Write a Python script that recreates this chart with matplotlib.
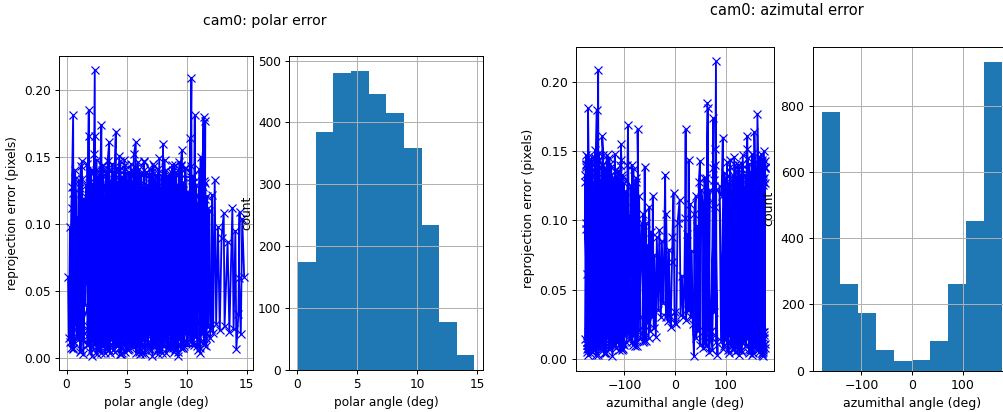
import numpy as np
import matplotlib.pyplot as plt

# per-corner values: polar angle, azimuthal angle, reprojection error (same points in both figures)
polar_deg = [
    14.78, 14.62, 14.50, 14.35, 14.40, 14.30, 14.13, 14.05, 13.90, 13.80, 13.55, 13.40, 13.15, 13.08, 12.90, 12.75, 12.60, 12.45, 12.33, 12.20, 12.10, 12.05,
    0.13, 0.20, 0.28, 0.35, 0.42, 0.55, 0.60, 0.50, 0.66, 0.75, 0.82, 0.90,
    1.00, 1.10, 1.25, 1.18, 1.32, 1.40, 1.48, 1.55, 1.62,
    6.05, 6.15, 6.25, 6.35, 6.45, 6.55, 6.65, 6.75, 6.85, 6.95,
    3.30, 3.42, 3.55, 3.60, 3.70, 3.78, 3.85,
    10.22, 10.32, 10.39, 10.42, 10.50, 10.58,
    11.30, 11.40, 11.45, 11.52, 11.58,
    11.05, 11.12, 11.20, 11.28, 11.36, 11.62, 11.70, 11.78, 11.88, 11.96,
    1.70, 1.82, 1.95, 2.08, 2.22, 2.36, 2.50, 2.64, 2.78, 2.92, 3.06, 3.18,
    4.02, 4.15, 4.28, 4.40, 4.52, 4.65, 4.78, 4.90, 5.02, 5.15, 5.28, 5.42,
    4.55, 4.68, 4.80, 4.94, 5.08, 5.22, 5.36, 5.50, 5.64, 5.78, 5.90, 6.00,
    6.08, 6.20, 6.32, 6.44, 6.56, 6.68, 6.80, 6.92, 7.04, 7.16, 7.30, 7.44,
    7.02, 7.16, 7.30, 7.44, 7.58, 7.72, 7.86, 8.00, 8.14, 8.28, 8.42, 8.56,
    9.02, 9.14, 9.26, 9.38, 9.50, 9.62, 9.74, 9.86, 9.98, 10.10, 10.24, 10.38,
    2.02, 2.26, 2.50, 2.74, 2.98, 3.22, 3.46, 3.70, 3.94, 4.18, 4.42, 4.66,
    8.60, 8.75, 8.90, 9.05, 9.20, 9.35, 9.50, 9.60, 9.68,
    3.92, 4.00, 4.10, 4.15, 4.22, 4.30, 4.38,
    3.90, 3.96, 4.02, 4.08, 4.14, 4.20, 4.26, 4.32, 4.38, 4.44,
    2.60, 2.68, 2.76, 2.84, 2.92,
    1.82, 1.85, 1.95, 2.00, 2.10, 2.18,
    5.10, 5.13, 5.17, 5.21, 5.25, 5.29, 5.33, 5.37, 5.41, 5.45, 5.49, 5.53, 5.57, 5.61, 5.65, 5.69, 5.73, 5.77, 5.81, 5.85,
    7.10, 7.14, 7.18, 7.22, 7.26, 7.30, 7.34, 7.38, 7.42, 7.46, 7.50, 7.54, 7.58, 7.62, 7.66, 7.70, 7.74, 7.78, 7.82, 7.86,
    2.22, 2.26, 2.30, 2.33, 2.35, 2.40, 2.44, 2.48,
    9.00, 9.04, 9.08, 9.12, 9.16, 9.20, 9.24, 9.28, 9.32, 9.36, 9.40, 9.44, 9.48, 9.52, 9.56, 9.60, 9.64, 9.68, 9.72, 9.76,
    10.62, 10.67, 10.72, 10.80, 10.88,
    1.72, 1.85, 1.80, 1.90, 1.98, 2.05, 2.12,
    2.70, 2.80, 2.90, 2.95, 3.05, 3.12, 3.20,
    2.20, 2.30, 2.35, 2.38, 2.45, 2.52, 2.58,
    8.00, 8.03, 8.10, 8.20, 8.30, 8.40, 8.50,
    5.05, 5.40, 5.75, 6.10, 6.45, 6.80, 7.15, 7.50, 7.85, 8.20, 8.55, 8.90,
    2.62, 2.75, 2.88, 3.00, 3.14, 3.28, 3.40, 3.52, 3.64, 3.76, 3.88, 3.98,
    0.30, 0.45, 0.58, 0.72, 0.86, 1.00, 1.14, 1.28, 1.42, 1.58,
    5.82, 5.94, 6.06, 6.18, 6.30, 6.42, 6.54, 6.66, 6.78, 6.90, 7.02, 7.14,
    10.44, 10.56, 10.68, 10.80, 10.92, 11.04, 11.16, 11.28, 11.40, 11.52, 11.64, 11.76,
    5.22, 5.35, 5.48, 5.60, 5.76, 5.80, 5.90, 5.98,
    10.25, 10.30, 10.36, 10.45,
    7.52, 7.65, 7.78, 7.91, 8.04, 8.17, 8.30, 8.43, 8.56, 8.69, 8.82, 8.95,
    4.42, 4.50, 4.58, 4.66, 4.74, 4.82, 4.90, 4.98, 5.06, 5.14,
    3.02, 3.28, 3.54, 3.80, 4.06, 4.32, 4.58, 4.84, 5.10, 5.36, 5.62, 5.88,
    0.52, 0.74, 0.96, 1.18, 1.40, 1.62, 1.84, 2.06, 2.28, 2.50, 2.72, 2.94,
    7.05, 7.15, 7.25, 7.35, 7.45, 7.55, 7.65, 7.75, 7.85, 7.95,
    8.52, 8.66, 8.80, 8.94, 9.08, 9.22, 9.36, 9.50, 9.64, 9.78, 9.92, 10.06,
    11.55, 11.48, 11.40, 11.25, 11.16, 11.10,
]

azimuth_deg = [
    -90, -92, -94, -96, -98, -100, -102, -104, -106, -108, -110, -112, -114, -116, -118, -120, -122, -124, -126, -128, -130, -132,
    -175, -173, -176, -172, -170, -172, -171, -168, -174, -177, -169, -166,
    -162, -158, -156, -160, -154, -150, -157, -152, -148,
    -176, -172, -178, -169, -165, -161, -167, -174, -170, -163,
    -146, -142, -144, -140, -138, -147, -150,
    -150, -153, -152, -151, -155, -149,
    -158, -155, -153, -160, -156,
    -140, -138, -136, -134, -132, -130, -128, -127, -125, -126,
    -130, -128, -126, -124, -122, -120, -119, -117, -116, -115, -118, -121,
    -165, -163, -160, -158, -156, -154, -152, -150, -148, -147, -146, -145,
    -120, -118, -115, -113, -110, -108, -106, -104, -102, -101, -100, -103,
    -140, -139, -137, -135, -134, -132, -131, -129, -128, -127, -126, -125,
    -160, -158, -156, -154, -152, -150, -148, -146, -145, -143, -142, -140,
    -178, -176, -175, -173, -172, -170, -169, -168, -167, -166, -165, -166,
    -177, -175, -178, -174, -171, -169, -167, -165, -168, -172, -176, -173,
    -112, -110, -108, -105, -113, -109, -106, -107, -104,
    -96, -94, -93, -90, -98, -101, -104,
    -88, -86, -85, -83, -81, -79, -77, -75, -71, -68,
    -84, -82, -80, -78, -76,
    -72, -74, -70, -66, -62, -58,
    -64, -63, -61, -60, -58, -57, -56, -55, -52, -51, -49, -47, -45, -44, -42, -41, -38, -36, -33, -31,
    -28, -26, -23, -22, -19.5, -18, -17.5, -14, -12, -10, -8.5, -6, -5, -3, -1, 0, 2.6, 5, 9, 11,
    14, 16, 18, 20, 21, 22, 24, 26,
    27, 28, 30, 31, 33, 35, 37.5, 38, 41, 42, 44, 46, 47, 49.5, 50, 52, 55, 56, 58, 60,
    63, 65, 67, 69, 62,
    62, 64, 66, 61, 68, 65, 70,
    74, 75, 76, 73, 78, 71, 80,
    78, 80, 81, 82, 79, 84, 77,
    92, 94.5, 96, 98, 91, 88, 95,
    100, 102, 103, 105, 106, 108, 109, 111, 112, 113, 114, 115,
    100, 103, 106, 109, 112, 115, 117, 119, 121, 122, 124, 125,
    120, 122, 124, 126, 128, 130, 132, 134, 137, 140,
    115, 117, 119, 121, 123, 125, 127, 129, 131, 132, 134, 135,
    120, 123, 126, 128, 131, 133, 136, 138, 140, 142, 144, 145,
    146, 144, 140, 142, 143, 147, 139, 136,
    159, 157, 155, 152,
    145, 147, 148, 150, 152, 153, 155, 156, 158, 159, 160, 157,
    152, 158, 161, 165, 168, 171, 166, 160, 155, 150,
    160, 162, 164, 166, 168, 170, 172, 174, 176, 178, 175, 172,
    165, 167, 169, 171, 173, 175, 177, 178, 176, 174, 172, 170,
    172, 175, 178, 170, 168, 174, 177, 171, 166, 173,
    170, 171, 173, 174, 175, 176, 177, 178, 176, 174, 172, 171,
    163, 161, 164, 168, 176, 174,
]

reproj_err = [
    0.061, 0.104, 0.018, 0.060, 0.109, 0.033, 0.007, 0.095, 0.022, 0.112, 0.020, 0.087, 0.024, 0.108, 0.090, 0.021, 0.098, 0.026, 0.133, 0.019, 0.122, 0.022,
    0.061, 0.015, 0.098, 0.008, 0.112, 0.181, 0.022, 0.123, 0.012, 0.094, 0.030, 0.105,
    0.018, 0.127, 0.134, 0.006, 0.088, 0.014, 0.119, 0.040, 0.100,
    0.141, 0.003, 0.128, 0.015, 0.146, 0.006, 0.139, 0.010, 0.124, 0.019,
    0.009, 0.147, 0.161, 0.004, 0.132, 0.017, 0.118,
    0.021, 0.143, 0.209, 0.014, 0.131, 0.010,
    0.126, 0.180, 0.012, 0.119, 0.019,
    0.112, 0.004, 0.137, 0.020, 0.128, 0.009, 0.121, 0.025, 0.110, 0.015,
    0.145, 0.011, 0.139, 0.002, 0.130, 0.016, 0.148, 0.008, 0.125, 0.013, 0.136, 0.020,
    0.005, 0.142, 0.010, 0.151, 0.003, 0.135, 0.012, 0.144, 0.007, 0.129, 0.018, 0.140,
    0.009, 0.122, 0.014, 0.134, 0.006, 0.118, 0.021, 0.131, 0.011, 0.127, 0.017, 0.108,
    0.012, 0.138, 0.004, 0.147, 0.016, 0.129, 0.007, 0.141, 0.010, 0.133, 0.022, 0.119,
    0.006, 0.145, 0.013, 0.137, 0.003, 0.149, 0.011, 0.128, 0.019, 0.140, 0.008, 0.126,
    0.014, 0.139, 0.005, 0.146, 0.017, 0.131, 0.009, 0.142, 0.012, 0.124, 0.020, 0.135,
    0.140, 0.007, 0.133, 0.012, 0.143, 0.004, 0.129, 0.015, 0.138, 0.010, 0.147, 0.019,
    0.136, 0.011, 0.140, 0.006, 0.129, 0.015, 0.144, 0.155, 0.008,
    0.012, 0.140, 0.169, 0.014, 0.121, 0.010, 0.133,
    0.125, 0.012, 0.140, 0.018, 0.113, 0.009, 0.131, 0.020, 0.118, 0.015,
    0.010, 0.137, 0.018, 0.128, 0.009,
    0.021, 0.166, 0.030, 0.098, 0.013, 0.078,
    0.012, 0.105, 0.020, 0.139, 0.013, 0.098, 0.026, 0.082, 0.015, 0.110, 0.020, 0.092, 0.030, 0.118, 0.022, 0.075, 0.016, 0.088, 0.035, 0.093,
    0.030, 0.085, 0.040, 0.062, 0.133, 0.030, 0.105, 0.027, 0.079, 0.031, 0.023, 0.070, 0.088, 0.120, 0.034, 0.026, 0.025, 0.098, 0.115, 0.032,
    0.060, 0.030, 0.045, 0.102, 0.166, 0.028, 0.090, 0.035,
    0.144, 0.035, 0.112, 0.030, 0.078, 0.025, 0.002, 0.105, 0.118, 0.015, 0.096, 0.020, 0.128, 0.143, 0.010, 0.122, 0.110, 0.008, 0.131, 0.012,
    0.118, 0.181, 0.016, 0.122, 0.009,
    0.010, 0.185, 0.024, 0.131, 0.005, 0.112, 0.019,
    0.006, 0.138, 0.174, 0.015, 0.129, 0.020, 0.110,
    0.034, 0.152, 0.215, 0.012, 0.140, 0.003, 0.125,
    0.118, 0.160, 0.009, 0.134, 0.013, 0.125, 0.007,
    0.131, 0.012, 0.142, 0.006, 0.127, 0.017, 0.139, 0.010, 0.121, 0.021, 0.133, 0.008,
    0.015, 0.132, 0.004, 0.144, 0.011, 0.128, 0.007, 0.140, 0.018, 0.124, 0.006, 0.137,
    0.012, 0.128, 0.007, 0.140, 0.016, 0.133, 0.005, 0.147, 0.019, 0.120,
    0.010, 0.146, 0.005, 0.131, 0.014, 0.140, 0.003, 0.125, 0.012, 0.137, 0.020, 0.118,
    0.011, 0.136, 0.018, 0.129, 0.006, 0.141, 0.013, 0.124, 0.021, 0.131, 0.015, 0.112,
    0.007, 0.145, 0.009, 0.152, 0.161, 0.004, 0.133, 0.012,
    0.121, 0.164, 0.013, 0.128,
    0.016, 0.141, 0.006, 0.135, 0.011, 0.148, 0.004, 0.127, 0.018, 0.139, 0.009, 0.122,
    0.003, 0.142, 0.008, 0.126, 0.011, 0.148, 0.005, 0.137, 0.016, 0.130,
    0.013, 0.139, 0.006, 0.145, 0.012, 0.131, 0.004, 0.141, 0.017, 0.127, 0.009, 0.136,
    0.008, 0.134, 0.014, 0.143, 0.003, 0.129, 0.011, 0.138, 0.019, 0.126, 0.007, 0.140,
    0.135, 0.002, 0.143, 0.012, 0.130, 0.006, 0.138, 0.014, 0.127, 0.004,
    0.133, 0.010, 0.144, 0.005, 0.128, 0.015, 0.139, 0.008, 0.131, 0.019, 0.142, 0.012,
    0.177, 0.010, 0.132, 0.018, 0.150, 0.008,
]

# histogram bar heights (all corners, 10 bins each)
polar_counts = [174, 385, 480, 484, 446, 416, 358, 234, 78, 25]
azimuth_counts = [781, 263, 173, 62, 29, 32, 90, 261, 451, 931]

polar = np.array(polar_deg)
azim = np.array(azimuth_deg)
err = np.array(reproj_err)
assert len(polar) == len(azim) == len(err)


def hist_from_counts(ax, values, counts):
    edges = np.linspace(values.min(), values.max(), len(counts) + 1)
    centers = (edges[:-1] + edges[1:]) / 2
    ax.hist(centers, bins=edges, weights=counts)


fig = plt.figure(figsize=(1003 / 87, 412 / 87), dpi=87)

# --- polar error figure ---
ax1 = fig.add_axes([0.0591, 0.1019, 0.1931, 0.7633])
ax1.plot(polar, err, 'bx-')
ax1.grid(True)
ax1.set_xlabel('polar angle (deg)')
ax1.set_ylabel('reprojection error (pixels)')

ax2 = fig.add_axes([0.2886, 0.1019, 0.1931, 0.7633])
hist_from_counts(ax2, polar, polar_counts)
ax2.grid(True)
ax2.set_xlabel('polar angle (deg)')
ax2.set_ylabel('count')

fig.text(0.2639, 0.949, 'cam0: polar error', ha='center', va='center', fontsize=11.7)

# --- azimuthal error figure ---
fs = 10.3
ax3 = fig.add_axes([0.5743, 0.1002, 0.1974, 0.7864])
ax3.plot(azim, err, 'bx-')
ax3.grid(True)
ax3.set_xlabel('azumithal angle (deg)', fontsize=fs)
ax3.set_ylabel('reprojection error (pixels)', fontsize=fs)
ax3.tick_params(labelsize=fs)

ax4 = fig.add_axes([0.8106, 0.1002, 0.1974, 0.7864])
hist_from_counts(ax4, azim, azimuth_counts)
ax4.grid(True)
ax4.set_xlabel('azumithal angle (deg)', fontsize=fs)
ax4.set_ylabel('count', fontsize=fs)
ax4.tick_params(labelsize=fs)

fig.text(0.7843, 0.974, 'cam0: azimutal error', ha='center', va='center', fontsize=12.1)

fig.savefig('out.png', dpi=87)
